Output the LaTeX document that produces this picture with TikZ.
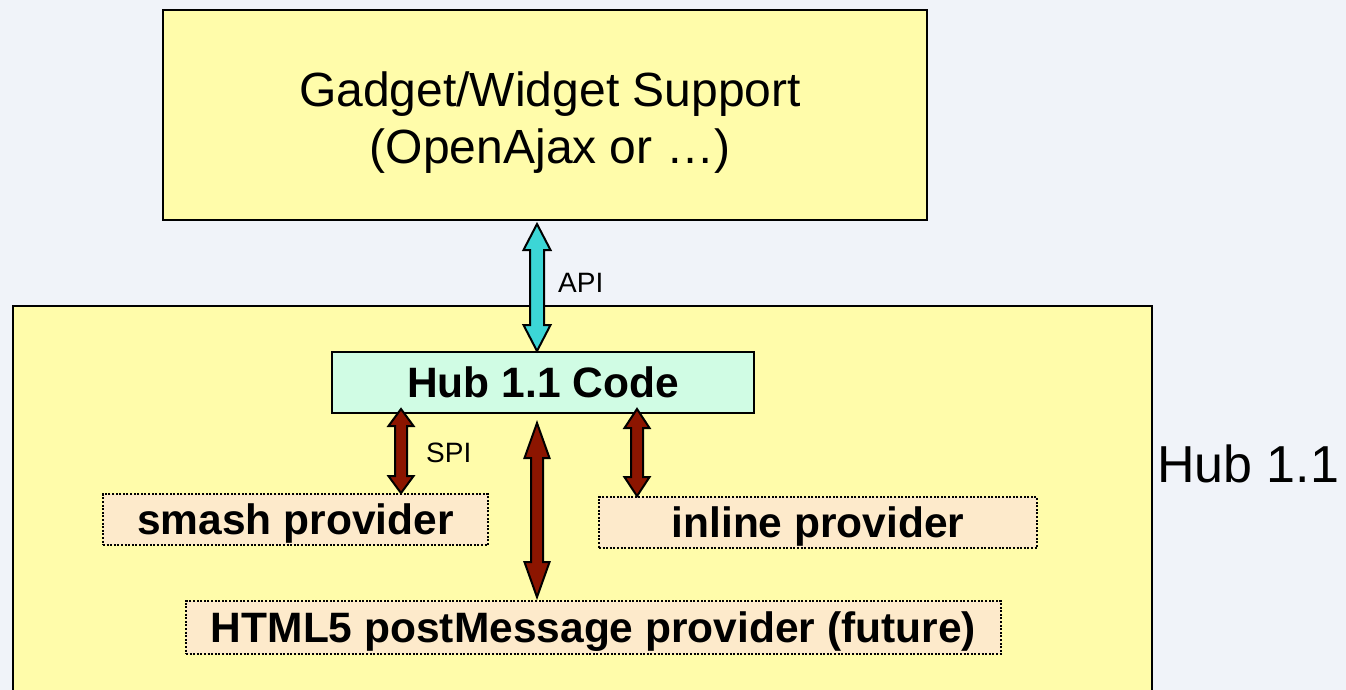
\documentclass[tikz,border=0pt]{standalone}
\usepackage{fontspec}
\setmainfont{Liberation Sans}
\usetikzlibrary{calc}

\definecolor{pagebg}{RGB}{240,243,249}
\definecolor{paleyellow}{RGB}{255,252,170}
\definecolor{mint}{RGB}{208,252,228}
\definecolor{peach}{RGB}{253,234,203}
\definecolor{apicyan}{RGB}{60,214,214}
\definecolor{spired}{RGB}{140,21,0}

\tikzset{
  arrow head half/.store in=\ahw,
  arrow shaft half/.store in=\asw,
  arrow head len/.store in=\ahl,
  arrow head half=12.5pt, arrow shaft half=6pt, arrow head len=18pt,
  % vertical two-headed block arrow, drawn from the upper end to the lower one
  blockarrow/.style={draw=black, line width=2pt, line join=miter,
    to path={let \p1=(\tikztostart), \p2=(\tikztotarget) in
      -- (\x1+\ahw,\y1-\ahl) -- (\x1+\asw,\y1-\ahl)
      -- (\x2+\asw,\y2+\ahl) -- (\x2+\ahw,\y2+\ahl)
      -- (\x2,\y2)
      -- (\x2-\ahw,\y2+\ahl) -- (\x2-\asw,\y2+\ahl)
      -- (\x1-\asw,\y1-\ahl) -- (\x1-\ahw,\y1-\ahl) -- cycle}},
  panel/.style={draw=black, line width=2pt, fill=paleyellow, inner sep=0pt},
  codebox/.style={draw=black, line width=2pt, fill=mint, inner sep=0pt,
    font=\fontsize{42.5}{48}\selectfont\bfseries},
  provider/.style={draw=black, line width=1.8pt, dash pattern=on 2pt off 1.6pt,
    fill=peach, inner sep=0pt, text depth=0pt,
    font=\fontsize{42.5}{48}\selectfont\bfseries},
  smalllabel/.style={anchor=base west, inner sep=0pt, font=\fontsize{28}{32}\selectfont},
}

\begin{document}
\begin{tikzpicture}[x=1pt,y=-1pt]
  \useasboundingbox (0,0) rectangle (1346,690);
  \clip (0,0) rectangle (1346,690);
  \fill[pagebg] (0,0) rectangle (1346,690);

  % outer widget layer
  \node[panel, minimum width=764pt, minimum height=210pt] (top) at (545,115) {};
  \node[align=center, inner sep=0pt, font=\fontsize{48}{57}\selectfont] (title) at (550,123)
    {Gadget/Widget Support\\(OpenAjax or \dots)};

  % hub container, running off the lower edge
  \node[panel, minimum width=1139pt, minimum height=394pt] (hub) at (582.5,503) {};
  \node[anchor=base west, inner sep=0pt, font=\fontsize{52}{58}\selectfont] (hublabel)
    at (1157,482) {Hub 1.1};

  % hub code and providers
  \node[codebox, minimum width=422pt, minimum height=61pt] (code) at (543,382.5) {Hub 1.1 Code};
  \node[provider, minimum width=385pt, minimum height=51pt] (smash) at (295.5,519.5) {smash provider};
  \node[provider, minimum width=438pt, minimum height=51pt] (inline) at (818,522.5) {inline provider};
  \node[provider, minimum width=815pt, minimum height=53pt] (html5) at (593.5,627.5)
    {HTML5 postMessage provider (future)};

  % arrow axes
  \coordinate (apix) at (537,0);
  \coordinate (spix) at (401,0);
  \coordinate (inlx) at (637,0);

  % API arrow
  \draw[blockarrow, fill=apicyan, arrow head half=13.5pt, arrow shaft half=7pt, arrow head len=26pt]
    ([yshift=-3pt]top.south -| apix) to (code.north -| apix);
  \node[smalllabel] (api) at (558,292) {API};

  % SPI arrows
  \draw[blockarrow, fill=spired, arrow head len=17pt]
    ([yshift=5pt]code.south -| spix) to (smash.north -| spix);
  \node[smalllabel] (spi) at (426,462) {SPI};
  \draw[blockarrow, fill=spired, arrow head len=19pt]
    ([yshift=5pt]code.south -| inlx) to (inline.north -| inlx);
  \draw[blockarrow, fill=spired, arrow head len=35pt]
    ([yshift=-9pt]code.south -| apix) to ([yshift=3pt]html5.north -| apix);
\end{tikzpicture}
\end{document}
